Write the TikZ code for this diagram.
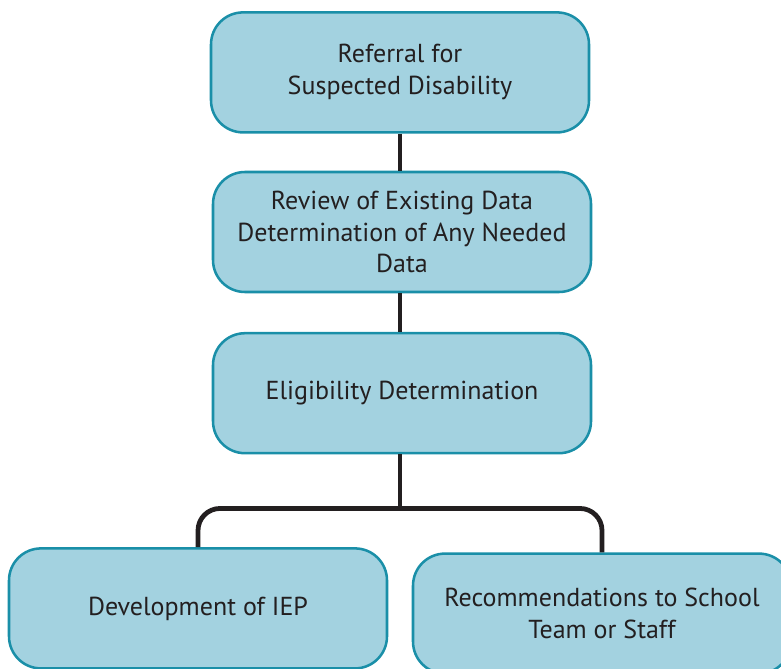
\documentclass[tikz,border=0pt]{standalone}
\usepackage{fontspec}
\setmainfont{PT Sans}
\definecolor{boxfill}{HTML}{A3D2E0}
\definecolor{boxedge}{HTML}{1A8FA8}
\definecolor{linkcol}{HTML}{231F20}
\begin{document}
\begin{tikzpicture}[
  stage/.style={rectangle, rounded corners=0.8cm, draw=boxedge, line width=1.8pt, fill=boxfill,
    minimum width=9.45cm, minimum height=3cm, align=center, text=linkcol,
    font=\fontsize{18.5}{22.7}\selectfont},
  link/.style={draw=linkcol, line width=3.4pt}
]
\useasboundingbox (0,0) rectangle (19.525,-16.725);

% Process stages
\node[stage] (referral) at (10.0,-1.81) {Referral for\\Suspected Disability};
\node[stage] (review) at (10.05,-5.8) {Review of Existing Data\\Determination of Any Needed\\Data};
\node[stage] (eligibility) at (10.05,-9.83) {Eligibility Determination};

% Outcomes
\node[stage] (iep) at (4.95,-15.21) {Development of IEP};
\node[stage] (recommend) at (15.05,-15.34) {Recommendations to School\\Team or Staff};

% Links
\draw[link] (referral.south -| 10,0) -- (review.north -| 10,0);
\draw[link] (review.south -| 10,0) -- (eligibility.north -| 10,0);
\draw[link] (eligibility.south -| 10,0) -- ++(0,-1.35) coordinate (fork);
\draw[link, rounded corners=0.55cm] (iep.north) |- (fork) -| (recommend.north);

\end{tikzpicture}
\end{document}
